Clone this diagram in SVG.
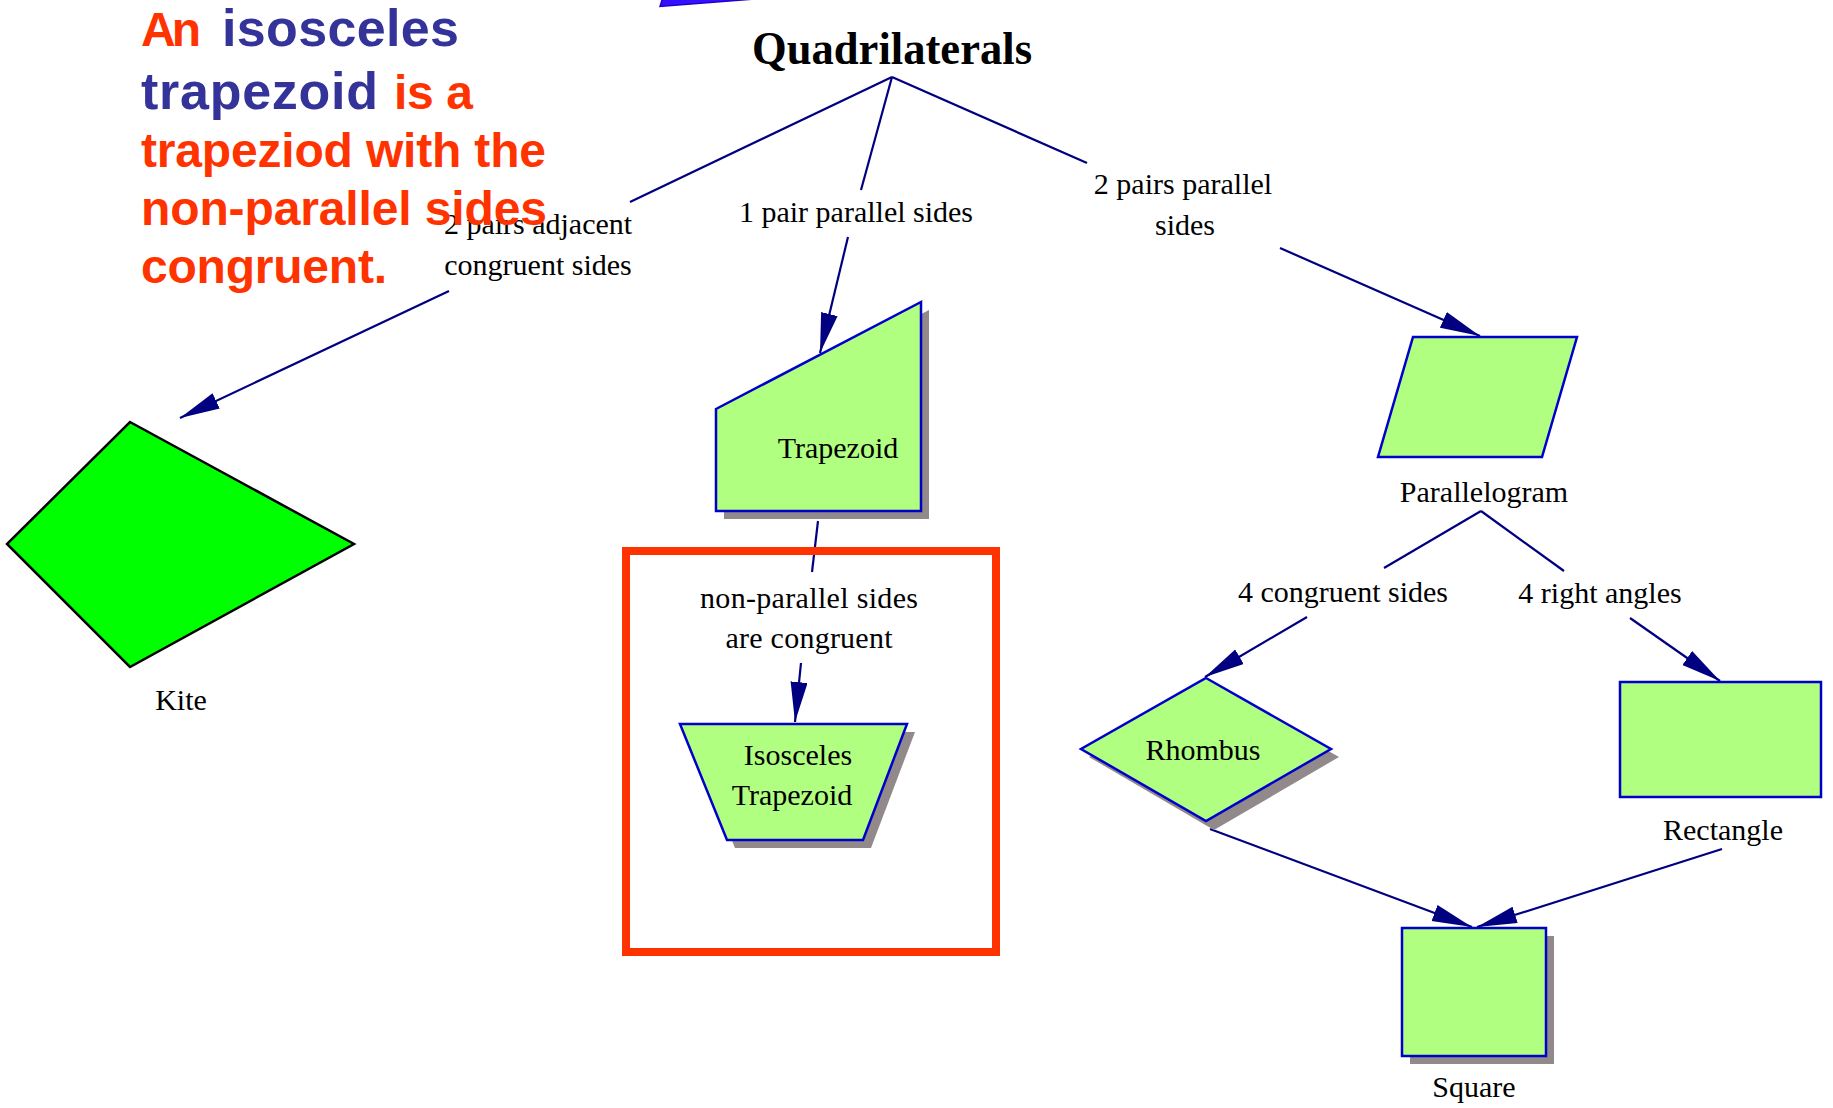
<svg xmlns="http://www.w3.org/2000/svg" width="1833" height="1108" viewBox="0 0 1833 1108">
<style>
.lbl { font-family: "Liberation Serif", "Times New Roman", serif; font-size: 30px; fill: #000; text-anchor: middle; }
.node { fill: #b0ff80; stroke: #0000cc; stroke-width: 2.5; }
.shadow { fill: #928a8a; }
.edge { stroke: #000080; stroke-width: 2.2; fill: none; }
.arr { marker-end: url(#ah); }
.big { font-family: "Liberation Sans", Arial, sans-serif; font-weight: bold; }
.red { fill: #ff3300; }
.blue { fill: #333399; }
</style>
<defs>
<marker id="ah" markerUnits="userSpaceOnUse" markerWidth="42" markerHeight="18" refX="40" refY="8.5" orient="auto" viewBox="0 0 42 18">
<path d="M0,0 L40,8.5 L0,17 z" fill="#000080"/>
</marker>
</defs>
<rect width="1833" height="1108" fill="#fff"/>

<polygon points="660,6.5 663,-3 780,-3" fill="#3311ff" stroke="#2200cc" stroke-width="1.5"/>

<g id="connectors">
<line class="edge" x1="892" y1="77" x2="630" y2="202"/>
<line class="edge arr" x1="449" y1="291" x2="180" y2="418"/>
<line class="edge" x1="892" y1="77" x2="861" y2="190"/>
<line class="edge arr" x1="848" y1="237" x2="820" y2="353"/>
<line class="edge" x1="892" y1="77" x2="1087" y2="163"/>
<line class="edge arr" x1="1280" y1="248" x2="1480" y2="336"/>
<line class="edge" x1="818" y1="521" x2="812" y2="572"/>
<line class="edge arr" x1="801" y1="663" x2="795" y2="722"/>
<line class="edge" x1="1481" y1="511" x2="1384" y2="568"/>
<line class="edge arr" x1="1307" y1="617" x2="1205" y2="677"/>
<line class="edge" x1="1481" y1="511" x2="1564" y2="571"/>
<line class="edge arr" x1="1630" y1="618" x2="1720" y2="681"/>
<line class="edge arr" x1="1210" y1="829" x2="1472" y2="927"/>
<line class="edge arr" x1="1722" y1="849" x2="1477" y2="927"/>
<text class="lbl" x="538" y="234">2 pairs adjacent</text>
<text class="lbl" x="538" y="275">congruent sides</text>
<text class="lbl" x="856" y="222">1 pair parallel sides</text>
<text class="lbl" x="1183" y="194">2 pairs parallel</text>
<text class="lbl" x="1185" y="235">sides</text>
<text class="lbl" x="809" y="608" textLength="218">non-parallel sides</text>
<text class="lbl" x="809" y="648" textLength="167">are congruent</text>
<text class="lbl" x="1343" y="602">4 congruent sides</text>
<text class="lbl" x="1600" y="603">4 right angles</text>
</g>

<g id="node-quadrilaterals">
<text x="892" y="64" text-anchor="middle" font-family="'Liberation Serif', 'Times New Roman', serif" font-weight="bold" font-size="46" textLength="280" lengthAdjust="spacingAndGlyphs">Quadrilaterals</text>
</g>

<g id="node-kite">
<polygon points="130,422 354,544 130,667 7,544" fill="#00ff00" stroke="#000" stroke-width="2.5"/>
<text class="lbl" x="181" y="710">Kite</text>
</g>

<g id="node-trapezoid">
<polygon class="shadow" points="724,417 929,310 929,519 724,519"/>
<polygon class="node" points="716,409 921,302 921,511 716,511"/>
<text class="lbl" x="838" y="458">Trapezoid</text>
</g>

<g id="node-isosceles">
<polygon class="shadow" points="688,732 915,732 871,848 735,848"/>
<polygon class="node" points="680,724 907,724 863,840 727,840"/>
<text class="lbl" x="798" y="765">Isosceles</text>
<text class="lbl" x="792" y="805">Trapezoid</text>
</g>

<g id="node-parallelogram">
<polygon class="node" points="1413,337 1577,337 1542,457 1378,457"/>
<text class="lbl" x="1484" y="502">Parallelogram</text>
</g>

<g id="node-rhombus">
<polygon class="shadow" points="1214,686 1339,757 1214,830 1089,757"/>
<polygon class="node" points="1206,678 1331,749 1206,821 1081,749"/>
<text class="lbl" x="1203" y="760">Rhombus</text>
</g>

<g id="node-rectangle">
<rect class="node" x="1620" y="682" width="201" height="115"/>
<text class="lbl" x="1723" y="840">Rectangle</text>
</g>

<g id="node-square">
<rect class="shadow" x="1410" y="936" width="144" height="128"/>
<rect class="node" x="1402" y="928" width="144" height="128"/>
<text class="lbl" x="1474" y="1097">Square</text>
</g>

<rect id="highlight" x="626" y="551" width="370" height="401" fill="none" stroke="#ff3300" stroke-width="8"/>

<g id="note">
<text class="big red" x="141" y="46" font-size="48" textLength="60">An</text>
<text class="big blue" x="222" y="46" font-size="52" textLength="237">isosceles</text>
<text class="big blue" x="141" y="109" font-size="52" textLength="237">trapezoid</text>
<text class="big red" x="394" y="109" font-size="48" textLength="79">is a</text>
<text class="big red" x="141" y="167" font-size="48" textLength="405">trapeziod with the</text>
<text class="big red" x="141" y="225" font-size="48" textLength="406">non-parallel sides</text>
<text class="big red" x="141" y="283" font-size="48" textLength="246">congruent.</text>
</g>
</svg>
